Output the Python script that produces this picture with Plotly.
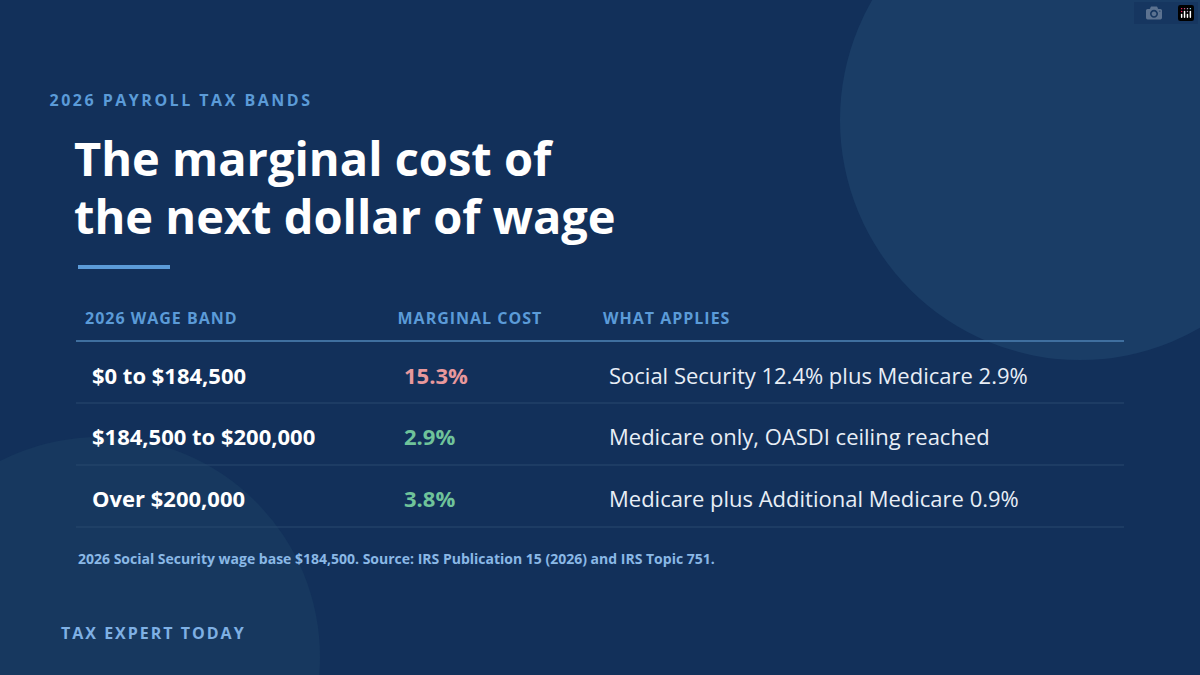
import plotly.graph_objects as go

# Table data
headers = ["2026 WAGE BAND", "MARGINAL COST", "WHAT APPLIES"]
bands = ["$0 to $184,500", "$184,500 to $200,000", "Over $200,000"]
costs = [15.3, 2.9, 3.8]
applies = ["Social Security 12.4% plus Medicare 2.9%",
           "Medicare only, OASDI ceiling reached",
           "Medicare plus Additional Medicare 0.9%"]
cost_colors = ["#e8989c", "#6fc39a", "#6fc39a"]

W, H = 1200, 675
FONT = "Open Sans"
col_x = [90, 402, 607]
row_y = [375, 436, 498]

fig = go.Figure()

shapes = [
    dict(type="circle", xref="x", yref="y", x0=840, x1=1320, y0=-120, y1=360,
         fillcolor="#1a3d66", line_width=0, layer="below"),
    dict(type="circle", xref="x", yref="y", x0=-120, x1=320, y0=437, y1=877,
         fillcolor="#17385f", line_width=0, layer="below"),
    dict(type="line", x0=78, x1=170, y0=267, y1=267, line=dict(color="#5b9bd8", width=4)),
    dict(type="line", x0=76, x1=1124, y0=341, y1=341, line=dict(color="#3f6f9f", width=2)),
]
for y in [403, 465, 527]:
    shapes.append(dict(type="line", x0=76, x1=1124, y0=y, y1=y, line=dict(color="#29496f", width=1)))

ann = []
def txt(x, y, s, size, color, bold=False):
    ann.append(dict(x=x, y=y, xref="x", yref="y", text=f"<b>{s}</b>" if bold else s,
                    showarrow=False, xanchor="left", yanchor="middle",
                    font=dict(family=FONT, size=size, color=color)))

txt(75, 100, "2026 PAYROLL TAX BANDS", 16, "#5b9bd8", True)
txt(72, 158, "The marginal cost of", 47, "white", True)
txt(72, 216, "the next dollar of wage", 47, "white", True)
for x, h in zip(col_x, headers):
    txt(x, 318, h, 16, "#5b9bd8", True)
for i in range(len(bands)):
    txt(col_x[0], row_y[i], bands[i], 22, "white", True)
    txt(col_x[1], row_y[i], f"{costs[i]:.1f}%", 22, cost_colors[i], True)
    txt(col_x[2], row_y[i], applies[i], 22, "#e8eef6")
txt(76, 558, "2026 Social Security wage base $184,500. Source: IRS Publication 15 (2026) and IRS Topic 751.",
    14, "#8ab8e6", True)
txt(75, 633, "TAX EXPERT TODAY", 16, "#7fb0e4", True)

fig.update_layout(
    width=W, height=H, margin=dict(l=0, r=0, t=0, b=0),
    paper_bgcolor="#12305a", plot_bgcolor="#12305a",
    xaxis=dict(range=[0, W], visible=False, fixedrange=True),
    yaxis=dict(range=[H, 0], visible=False, fixedrange=True),
    shapes=shapes, annotations=ann, showlegend=False,
)

js = """
document.body.style.margin = '0';
var spaced = {'2026 PAYROLL TAX BANDS': '2.5px', 'TAX EXPERT TODAY': '2px',
              '2026 WAGE BAND': '1px', 'MARGINAL COST': '1px', 'WHAT APPLIES': '1px'};
document.querySelectorAll('.annotation-text').forEach(function(t) {
    var s = spaced[t.textContent];
    if (s) { t.style.letterSpacing = s; }
});
"""
fig.write_html("out.html", post_script=js)
